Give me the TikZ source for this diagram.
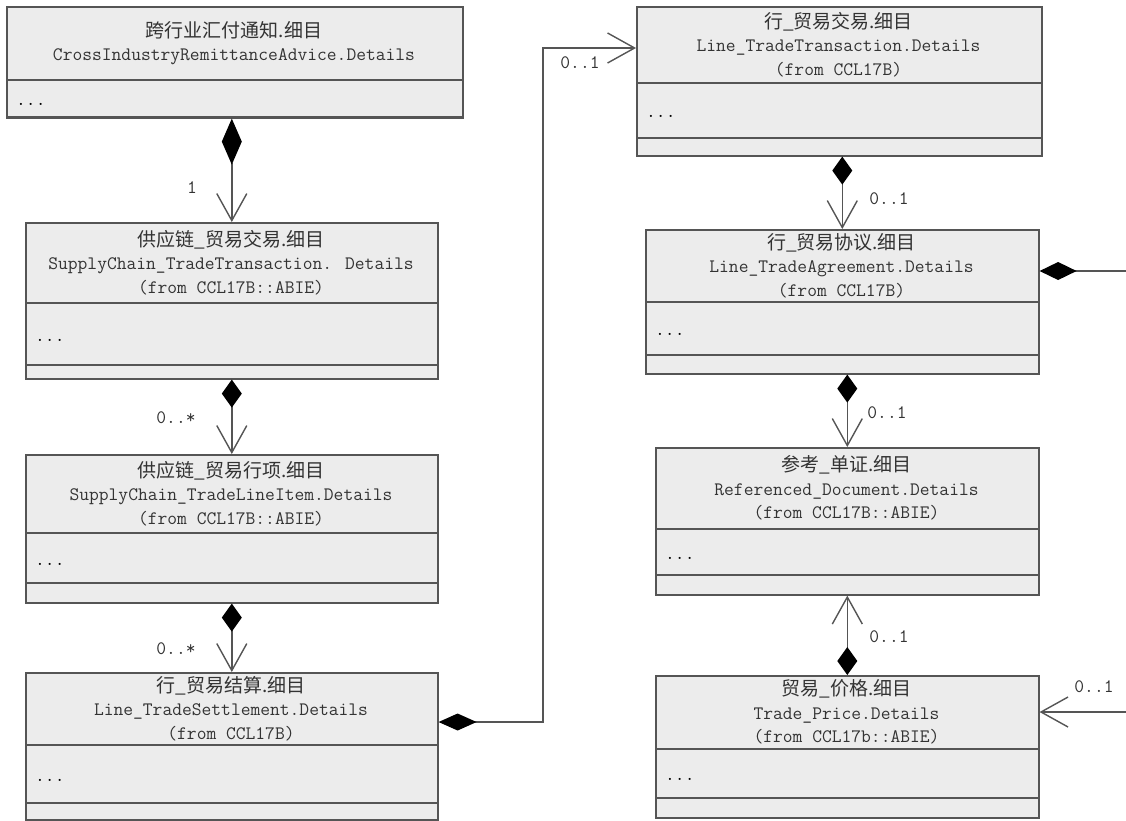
\documentclass[tikz,border=0pt]{standalone}
\usepackage{fontspec}
\newfontfamily\cjk{Noto Sans CJK SC}
\usetikzlibrary{arrows.meta}

\definecolor{boxfill}{HTML}{ECECEC}
\definecolor{boxline}{HTML}{555555}
\definecolor{textgray}{HTML}{333333}

% name, left, top, right, first divider, second divider, bottom, title
\newcommand{\umlclass}[8]{%
  \node[classbox, anchor=north west, minimum width={#4-#2}, minimum height={#7-#3}] (#1) at (#2,#3) {};
  \draw[classline] (#2,#5) -- (#4,#5) (#2,#6) -- (#4,#6);
  \node[classname] (#1-name) at ({(#2+#4)/2},{(#3+#5)/2}) {#8};
  \node[classdots] (#1-dots) at (#2+10,{(#5+#6)/2+7}) {...};
}

\begin{document}
\begin{tikzpicture}[x=1pt,y=-1pt,font=\fontsize{19}{23.5}\selectfont\ttfamily]
    \tikzstyle{classbox}=[draw=boxline,fill=boxfill,line width=1.6pt,inner sep=0pt]
    \tikzstyle{classline}=[draw=boxline,line width=1.6pt]
    \tikzstyle{classname}=[align=center,inner sep=0pt,text=textgray]
    \tikzstyle{classdots}=[anchor=base west,inner sep=0pt,text=black]
    \tikzstyle{mult}=[inner sep=0pt,text=textgray]
    \tikzstyle{comp}=[draw=boxline,line width=1.4pt,{Diamond[length=28pt,width=20pt,color=black]}-{Straight Barb[length=27pt,width=30pt]}]
    \tikzstyle{complong}=[comp,{Diamond[length=46pt,width=20pt,color=black]}-{Straight Barb[length=27pt,width=30pt]}]
    \tikzstyle{compside}=[comp,{Diamond[length=38pt,width=17pt,color=black]}-{Straight Barb[length=27pt,width=30pt]}]
    \tikzstyle{compend}=[draw=boxline,line width=1.4pt,{Diamond[length=37pt,width=18pt,color=black]}-]
    \tikzstyle{assoc}=[draw=boxline,line width=1.4pt,-{Straight Barb[length=27pt,width=30pt]}]

    \useasboundingbox (0,0) rectangle (1126,820);

    %%%%%%%%%%%%%%%%%%%%%%%%%%%%%%%%%%%%%%%%%%%%
    %%% DRAW THE CLASSES
    %%%%%%%%%%%%%%%%%%%%%%%%%%%%%%%%%%%%%%%%%%%%
    \umlclass{cia}{6}{6}{462}{80}{117}{117}{{\cjk 跨行业汇付通知.细目}\\CrossIndustryRemittanceAdvice.Details}
    \umlclass{sctt}{25}{222}{437}{303}{365}{378}{{\cjk 供应链\_贸易交易.细目}\\SupplyChain\_TradeTransaction. Details\\(from CCL17B::ABIE)}
    \umlclass{sctli}{25}{454}{437}{533}{583}{602}{{\cjk 供应链\_贸易行项.细目}\\SupplyChain\_TradeLineItem.Details\\(from CCL17B::ABIE)}
    \umlclass{lts}{25}{672}{437}{745}{803}{819}{{\cjk 行\_贸易结算.细目}\\Line\_TradeSettlement.Details\\(from CCL17B)}
    \umlclass{ltt}{636}{6}{1041}{83}{138}{155}{{\cjk 行\_贸易交易.细目}\\Line\_TradeTransaction.Details\\(from CCL17B)}
    \umlclass{lta}{645}{229}{1038}{302}{355}{373}{{\cjk 行\_贸易协议.细目}\\Line\_TradeAgreement.Details\\(from CCL17B)}
    \umlclass{refdoc}{655}{447}{1038}{529}{575}{594}{{\cjk 参考\_单证.细目}\\Referenced\_Document.Details\\(from CCL17B::ABIE)}
    \umlclass{tp}{655}{675}{1038}{749}{798}{817}{{\cjk 贸易\_价格.细目}\\Trade\_Price.Details\\(from CCL17b::ABIE)}

    \coordinate (offA) at (1126,271);
    \coordinate (offB) at (1126,712);

    %%%%%%%%%%%%%%%%%%%%%%%%%%%%%%%%%%%%%%%%%%%%
    %%% DRAW THE PATHS
    %%%%%%%%%%%%%%%%%%%%%%%%%%%%%%%%%%%%%%%%%%%%
    \foreach \source/\dest/\kind in {cia/sctt/complong,sctt/sctli/comp,sctli/lts/comp,ltt/lta/comp,lta/refdoc/comp}
        \draw[\kind] (\dest.north |- \source.south) -- (\dest.north);

    \draw[compside] (lts.east |- 0,722) -- (543,722) |- (ltt.west |- 0,48);
    \draw[comp] (tp.north) -- (tp.north |- refdoc.south);
    \draw[compend] (lta.east |- offA) -- (offA);
    \draw[assoc] (offB) -- (tp.east |- offB);

    % Multiplicities
    \node[mult] (m-cia) at (192,188) {1};
    \node[mult] (m-sctt) at (176,418) {0..*};
    \node[mult] (m-sctli) at (176,649) {0..*};
    \node[mult] (m-lts) at (580,63) {0..1};
    \node[mult] (m-ltt) at (889,199) {0..1};
    \node[mult] (m-lta) at (887,413) {0..1};
    \node[mult] (m-tp) at (889,637) {0..1};
    \node[mult] (m-off) at (1094,687) {0..1};
\end{tikzpicture}
\end{document}
